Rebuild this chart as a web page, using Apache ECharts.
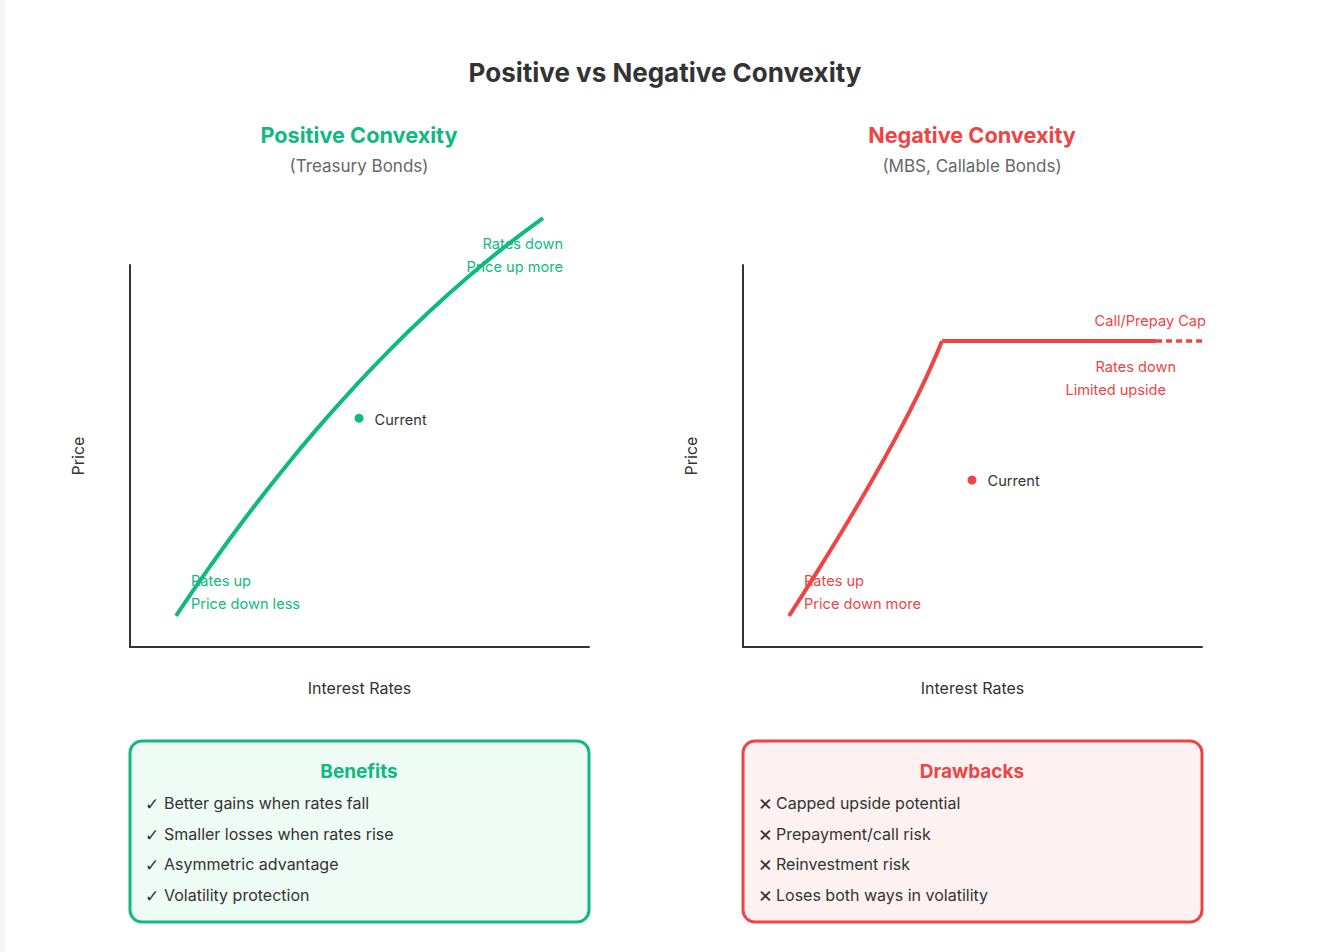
<!DOCTYPE html>
<html>
<head>
<meta charset="utf-8">
<script src="https://cdn.jsdelivr.net/npm/echarts@6/dist/echarts.min.js"></script>
<style>
html,body{margin:0;padding:0;background:#fff;}
#c{width:1327px;height:952px;}
</style>
</head>
<body>
<div id="c"></div>
<script>
// ---- data (schematic units: 0..100 on each axis) ----
var posCurveX = [10.02, 17.54, 25.16, 32.90, 40.74, 48.69, 56.73, 64.88, 73.14, 81.50, 89.98];
var posCurveY = [8.12, 21.28, 33.82, 45.76, 57.09, 67.80, 77.93, 87.43, 96.34, 104.63, 112.30];
var negCurveX = [10.02, 15.93, 21.35, 26.25, 30.68, 34.60, 38.02, 40.94, 43.36];
var negCurveY = [8.12, 19.27, 29.82, 39.74, 49.06, 57.75, 65.81, 73.27, 80.10];
var negCapX = [43.36, 90.0];
var negCapDashX = [90.0, 100];
var negCapY = 80.1;
var posCurrent = [49.9, 59.9];
var negCurrent = [49.9, 43.7];
var benefits = ['Better gains when rates fall', 'Smaller losses when rates rise', 'Asymmetric advantage', 'Volatility protection'];
var drawbacks = ['Capped upside potential', 'Prepayment/call risk', 'Reinvestment risk', 'Loses both ways in volatility'];

var GREEN = '#10b981', RED = '#ef4444', DARK = '#333333', GREY = '#666666';
var FONT = 'Inter, "Noto Sans", sans-serif';

function zip(xs, ys) { return xs.map(function (x, i) { return [x, ys[i]]; }); }
function flat(xs, y) { return xs.map(function (x) { return [x, y]; }); }

function xAx(idx) {
  return {
    gridIndex: idx, type: 'value', min: 0, max: 100,
    name: 'Interest Rates', nameLocation: 'middle', nameGap: 33,
    nameTextStyle: { color: DARK, fontSize: 16, fontFamily: FONT },
    axisLine: { show: true, lineStyle: { color: DARK, width: 2 } },
    axisTick: { show: false }, axisLabel: { show: false }, splitLine: { show: false }
  };
}
function yAx(idx) {
  return {
    gridIndex: idx, type: 'value', min: 0, max: 100,
    name: 'Price', nameLocation: 'middle', nameGap: 44,
    nameTextStyle: { color: DARK, fontSize: 16, fontFamily: FONT },
    axisLine: { show: true, onZero: false, lineStyle: { color: DARK, width: 2 } },
    axisTick: { show: false }, axisLabel: { show: false }, splitLine: { show: false }
  };
}

function txt(x, y, s, color, size, weight, align, family) {
  return {
    type: 'text', x: x, y: y,
    style: { text: s, fill: color, fontSize: size, fontWeight: weight || 'normal', fontFamily: family || FONT,
             textAlign: align || 'left', textVerticalAlign: 'middle' }
  };
}

var graphics = [
  { type: 'rect', shape: { x: 0, y: 0, width: 5, height: 952 }, style: { fill: '#f6f6f6' } },
  txt(665, 72, 'Positive vs Negative Convexity', DARK, 26, 'bold', 'center'),
  txt(359, 135, 'Positive Convexity', GREEN, 21.7, 'bold', 'center'),
  txt(359, 166, '(Treasury Bonds)', GREY, 17, 'normal', 'center'),
  txt(972, 135, 'Negative Convexity', RED, 21.7, 'bold', 'center'),
  txt(972, 166, '(MBS, Callable Bonds)', GREY, 17, 'normal', 'center'),
  // annotations left
  txt(563, 244, 'Rates down', GREEN, 14.6, 'normal', 'right'),
  txt(563, 267, 'Price up more', GREEN, 14.6, 'normal', 'right'),
  txt(191, 581, 'Rates up', GREEN, 14.6, 'normal', 'left'),
  txt(191, 604, 'Price down less', GREEN, 14.6, 'normal', 'left'),
  // annotations right
  txt(1206, 321, 'Call/Prepay Cap', RED, 14.6, 'normal', 'right'),
  txt(1176, 367, 'Rates down', RED, 14.6, 'normal', 'right'),
  txt(1166, 390, 'Limited upside', RED, 14.6, 'normal', 'right'),
  txt(804, 581, 'Rates up', RED, 14.6, 'normal', 'left'),
  txt(804, 604, 'Price down more', RED, 14.6, 'normal', 'left'),
  // boxes
  { type: 'rect', shape: { x: 130, y: 741, width: 459, height: 181, r: 12 },
    style: { fill: '#effbf5', stroke: GREEN, lineWidth: 3 } },
  { type: 'rect', shape: { x: 743, y: 741, width: 459, height: 181, r: 12 },
    style: { fill: '#fdf1f1', stroke: RED, lineWidth: 3 } },
  txt(359, 771, 'Benefits', GREEN, 19, 'bold', 'center'),
  txt(972, 771, 'Drawbacks', RED, 19, 'bold', 'center')
];
var rowY = [803, 833.5, 864, 895];
benefits.forEach(function (b, i) {
  graphics.push(txt(145, rowY[i] + 1, '\u2713', DARK, 17, 'normal', 'left', '"DejaVu Sans"'));
  graphics.push(txt(164, rowY[i], b, DARK, 16, 'normal', 'left'));
});
drawbacks.forEach(function (d, i) {
  graphics.push(txt(758, rowY[i] - 1, '\u00D7', DARK, 22, 'normal', 'left', 'Inter'));
  graphics.push(txt(776, rowY[i], d, DARK, 16, 'normal', 'left'));
});

var chart = echarts.init(document.getElementById('c'), null, { renderer: 'svg' });
chart.setOption({
  backgroundColor: '#ffffff',
  animation: false,
  grid: [
    { left: 130, top: 265, width: 459, height: 382 },
    { left: 743, top: 265, width: 459, height: 382 }
  ],
  xAxis: [xAx(0), xAx(1)],
  yAxis: [yAx(0), yAx(1)],
  series: [
    { type: 'line', xAxisIndex: 0, yAxisIndex: 0, data: zip(posCurveX, posCurveY), smooth: true,
      showSymbol: false, clip: false, lineStyle: { color: GREEN, width: 4 } },
    { type: 'scatter', xAxisIndex: 0, yAxisIndex: 0, data: [posCurrent], symbolSize: 9,
      itemStyle: { color: GREEN, opacity: 1 },
      label: { show: true, position: 'right', distance: 11, formatter: 'Current',
               color: DARK, fontSize: 14.6, fontFamily: FONT, offset: [0, 2] } },
    { type: 'line', xAxisIndex: 1, yAxisIndex: 1, data: zip(negCurveX, negCurveY), smooth: true,
      showSymbol: false, clip: false, lineStyle: { color: RED, width: 4 } },
    { type: 'line', xAxisIndex: 1, yAxisIndex: 1, data: flat(negCapX, negCapY),
      showSymbol: false, clip: false, lineStyle: { color: RED, width: 4 } },
    { type: 'line', xAxisIndex: 1, yAxisIndex: 1, data: flat(negCapDashX, negCapY),
      showSymbol: false, clip: false, lineStyle: { color: RED, width: 3.5, type: [6, 4] } },
    { type: 'scatter', xAxisIndex: 1, yAxisIndex: 1, data: [negCurrent], symbolSize: 9,
      itemStyle: { color: RED, opacity: 1 },
      label: { show: true, position: 'right', distance: 11, formatter: 'Current',
               color: DARK, fontSize: 14.6, fontFamily: FONT, offset: [0, 1] } }
  ],
  graphic: graphics
});
</script>
</body>
</html>
